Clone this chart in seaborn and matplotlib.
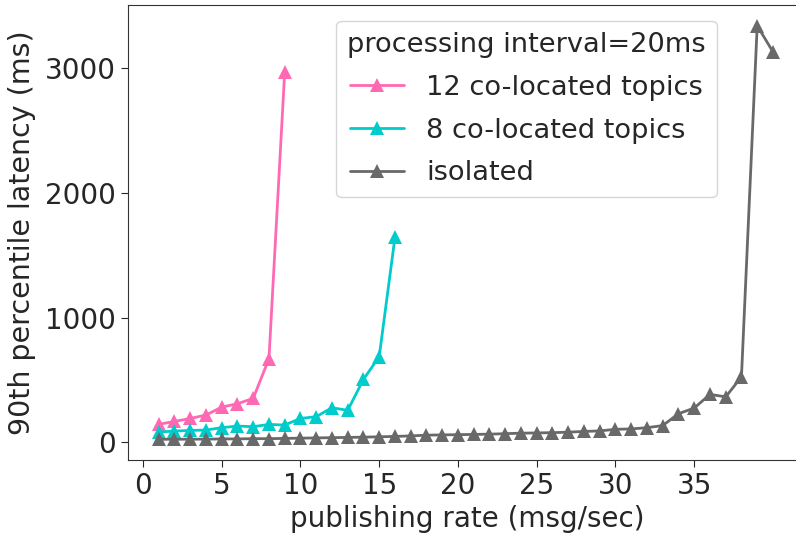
import numpy as np
import pandas as pd
import matplotlib
matplotlib.use("Agg")
import matplotlib.pyplot as plt
import seaborn as sns

# publishing rate (msg/sec) and 90th percentile latency (ms)
rate_12 = list(range(1, 10))
lat_12 = [145, 168, 192, 219, 283, 310, 353, 671, 2970]

rate_8 = list(range(1, 17))
lat_8 = [83, 91, 96, 99, 118, 131, 126, 144, 139, 192, 206, 278, 257, 505, 687, 1644]

rate_iso = list(range(1, 41))
lat_iso = [25, 25, 26, 26, 28, 28, 30, 30, 32, 34, 36, 38, 40, 42, 45, 48, 52, 58, 60, 62,
           64, 66, 70, 74, 76, 78, 82, 88, 92, 105, 108, 118, 135, 230, 275, 385, 365, 525,
           3340, 3130]

labels = ["12 co-located topics", "8 co-located topics", "isolated"]
colors = ["#ff69b4", "#00cccc", "#696969"]

df = pd.concat([
    pd.DataFrame({"rate": rate_12, "latency": lat_12, "setup": labels[0]}),
    pd.DataFrame({"rate": rate_8, "latency": lat_8, "setup": labels[1]}),
    pd.DataFrame({"rate": rate_iso, "latency": lat_iso, "setup": labels[2]}),
])

sns.set_style("ticks")
plt.rcParams["font.family"] = ["DejaVu Sans"]

fig = plt.figure(figsize=(7.96, 5.35), dpi=100)
# right edge sits just outside the picture, as in the cropped original
ax = fig.add_axes([0.1608, 0.1402, 0.8518, 0.8505])

sns.lineplot(data=df, x="rate", y="latency", hue="setup", hue_order=labels,
             palette=colors, marker="^", markersize=10, markeredgewidth=0,
             linewidth=2, ax=ax)

ax.set_xlim(-0.95, 42.1)
ax.set_ylim(-141, 3506)
ax.set_xticks([0, 5, 10, 15, 20, 25, 30, 35])
ax.set_yticks([0, 1000, 2000, 3000])
ax.tick_params(labelsize=20, length=5, pad=4)
ax.set_xlabel("publishing rate (msg/sec)", fontsize=20, labelpad=3)
ax.set_ylabel("90th percentile latency (ms)", fontsize=20.5, labelpad=6)
for s in ax.spines.values():
    s.set_color("#333333")
ax.spines["right"].set_visible(False)

ax.legend(title="processing interval=20ms", fontsize=19.6, title_fontsize=19.6,
          loc="upper right", bbox_to_anchor=(0.868, 0.965), borderaxespad=0,
          labelspacing=0.62, handlelength=2.0)

fig.savefig("out.png", dpi=100)
